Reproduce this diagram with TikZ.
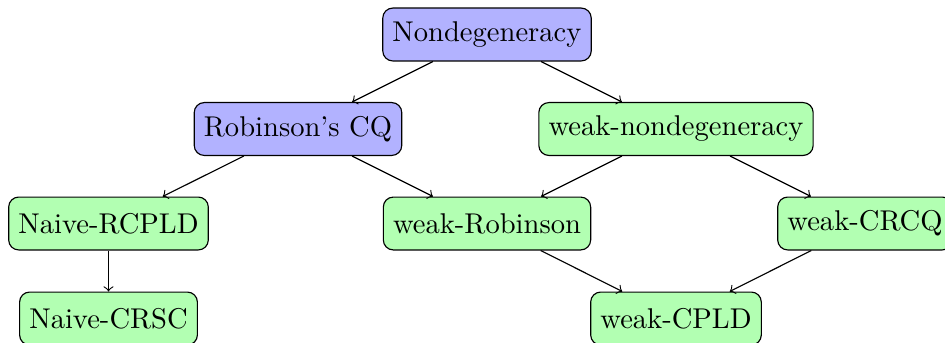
\documentclass[tikz,border=0pt]{standalone}
\begin{document}
\begin{tikzpicture}[x=0.3499pt,y=-0.3499pt,
  box/.style={draw,rounded corners=3.5pt,minimum height=18.5pt,inner xsep=3.4pt},
  bbox/.style={box,fill=blue!30},
  gbox/.style={box,fill=green!30},
  conn/.style={->}]
\useasboundingbox (0,0) rectangle (945,342);
\node[bbox] (N) at (487,34.5) {Nondegeneracy};
\node[bbox] (R) at (298,129) {Robinson's CQ};
\node[gbox] (WN) at (676,129) {weak-nondegeneracy};
\node[gbox] (NR) at (108.5,223.5) {Naive-RCPLD};
\node[gbox] (WR) at (487,223.5) {weak-Robinson};
\node[gbox] (WC) at (865,223.5) {weak-CRCQ};
\node[gbox] (NC) at (108.5,318.5) {Naive-CRSC};
\node[gbox] (WP) at (676,318.5) {weak-CPLD};
\draw[conn] (N) -- (R);
\draw[conn] (N) -- (WN);
\draw[conn] (R) -- (NR);
\draw[conn] (R) -- (WR);
\draw[conn] (WN) -- (WR);
\draw[conn] (WN) -- (WC);
\draw[conn] (NR) -- (NC);
\draw[conn] (WR) -- (WP);
\draw[conn] (WC) -- (WP);
\end{tikzpicture}
\end{document}
